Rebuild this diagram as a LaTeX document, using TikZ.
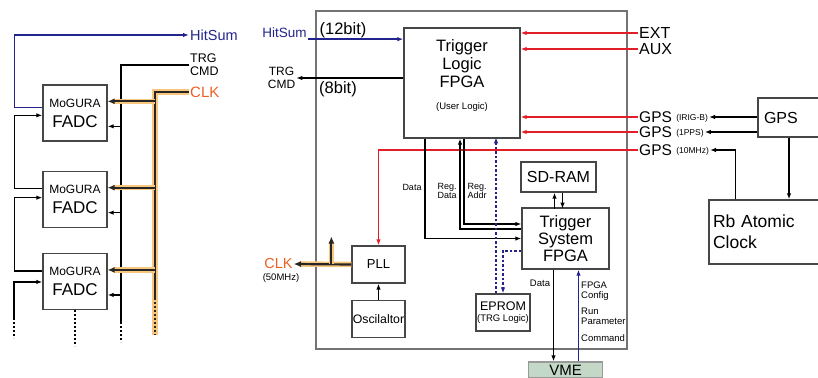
\documentclass[tikz,border=0pt]{standalone}
\usepackage{fontspec}
\setmainfont{Liberation Sans}
\usetikzlibrary{arrows.meta, positioning, calc}
\definecolor{navy}{RGB}{35,35,140}
\definecolor{sigred}{RGB}{228,30,40}
\definecolor{clkorange}{RGB}{236,95,35}
\definecolor{glow}{RGB}{248,198,125}
\definecolor{vmegreen}{RGB}{196,216,200}
\definecolor{boxedge}{RGB}{70,70,70}
\newcommand{\fsz}[2]{\fontsize{#1}{#2}\selectfont}
\newcommand{\mogura}{{\fsz{12}{20}MoGURA}\\FADC}
\newcommand{\gpsnote}[1]{\raisebox{2pt}{\fsz{8.5}{9}#1}}
\tikzset{
    box/.style={draw=boxedge, line width=1.3pt, fill=white, align=center, inner sep=0pt},
    fadc/.style={box, minimum width=64pt, minimum height=56pt, font=\fsz{17}{20}},
    lbl/.style={inner sep=1pt, align=center},
    arrow/.style={-{Latex[length=6pt,width=4.5pt]}, line width=1.35pt},
    larrow/.style={{Latex[length=6pt,width=4.5pt]}-, line width=1.35pt},
    redarrow/.style={arrow, sigred},
    navyarrow/.style={arrow, navy},
    navydash/.style={arrow, navy, dash pattern=on 2.5pt off 2pt},
    clkline/.style={line width=2.2pt, black!85, preaction={draw=glow, line width=5.5pt}},
    clkarrow/.style={clkline, -{Latex[length=7pt,width=6pt]}},
    clklarrow/.style={clkline, {Latex[length=7pt,width=6pt]}-},
    dotline/.style={line width=1.35pt, dash pattern=on 2pt off 2pt}
}

\begin{document}
\begin{tikzpicture}[x=1pt, y=-1pt]
    \useasboundingbox (0,0) rectangle (818,377);
    \clip (0,0) rectangle (818,377);

    % MoGURA FADC chain
    \node [fadc] (fadc1) at (75,113) {\mogura};
    \node [fadc, below=29pt of fadc1] (fadc2) {\mogura};
    \node [fadc, below=25pt of fadc2] (fadc3) {\mogura};
    \node [lbl, navy, anchor=west, font=\fsz{14.5}{16}] (hitsumL) at (189,35) {HitSum};
    \node [lbl, anchor=west, align=left, font=\fsz{12.5}{13}] (trgL) at (189,65) {TRG\\CMD};
    \node [lbl, clkorange, anchor=west, font=\fsz{15}{16}] (clkL) at (189,92) {CLK};
    \coordinate (trgbot) at (121,322);
    \coordinate (clkbot) at (155,298);
    \coordinate (chainend) at (14,318);

    \draw [navyarrow] ([yshift=-23pt]fadc1.north west) -- ++(-28,0) |- (hitsumL.west);
    \draw [arrow] ([yshift=-18pt]fadc2.north west) -- ++(-28,0) |- ([yshift=-31pt]fadc1.north west);
    \draw [arrow] ([yshift=-18pt]fadc3.north west) -- ++(-28,0) |- ([yshift=-27pt]fadc2.north west);
    \draw [arrow] (chainend) |- ([yshift=-29pt]fadc3.north west);
    \draw [dotline] (chainend) -- ++(0,20);
    \draw [dotline, line width=2.5pt] (fadc3.south) -- ++(0,36);
    \draw [line width=1.35pt] (trgL.west) -| (trgbot);
    \draw [dotline] (trgbot) -- ++(0,20);
    \draw [clkline] (clkL.west) -| (clkbot);
    \draw [clkline, dash pattern=on 2pt off 2pt] (clkbot) -- ++(0,37);
    \foreach \n in {1,2,3} {
        \draw [larrow] ([yshift=-42pt]fadc\n.north east) -- ++(14,0);
        \draw [clklarrow] ([yshift=-17pt]fadc\n.north east) -- ++(47,0);
    }

    % trigger board
    \node [draw=gray!90!black, line width=1.2pt, minimum width=311pt, minimum height=338pt, inner sep=0pt] (board) at (471.5,180) {};
    \node [box, minimum width=116pt, minimum height=110pt] (tl) at (462,83) {};
    \node [lbl, font=\fsz{16.5}{18}] (tltxt) at (462,64) {Trigger\\Logic\\FPGA};
    \node [lbl, font=\fsz{9.5}{11}] (ulogic) at (462,107) {(User Logic)};
    \node [box, minimum width=75pt, minimum height=30pt, font=\fsz{16}{18}] (sdram) at (558.5,177) {SD-RAM};
    \node [box, minimum width=87pt, minimum height=61pt, font=\fsz{16.5}{17}] (ts) at (565.5,238.5) {Trigger\\System\\FPGA};
    \node [box, minimum width=54pt, minimum height=37pt, font=\fsz{12.5}{11.5}] (eprom) at (503,312.5) {EPROM\\{\fsz{9.5}{11.5}(TRG Logic)}};
    \node [box, minimum width=53pt, minimum height=37pt, font=\fsz{13}{14}] (pll) at (378.5,264.5) {PLL};
    \node [box, minimum width=53pt, minimum height=37pt, font=\fsz{12.3}{14}, below=16pt of pll] (osc) {Oscilaltor};
    \node [box, fill=vmegreen, draw=gray!80, minimum width=74pt, minimum height=16pt, font=\fsz{15}{16}] (vme) at (565.5,370) {VME};

    \node [lbl, navy, font=\fsz{13.5}{15}] (hitsumR) at (284.5,33) {HitSum};
    \node [lbl, font=\fsz{16.5}{18}] (bit12) at (343,30) {(12bit)};
    \node [lbl, font=\fsz{12}{13}] (trgR) at (281.5,78) {TRG\\CMD};
    \node [lbl, font=\fsz{16.5}{18}] (bit8) at (338,89) {(8bit)};
    \node [lbl, clkorange, font=\fsz{14.5}{16}] (clkR) at (278.5,264) {CLK};
    \node [lbl, font=\fsz{9.5}{10}] (mhz) at (281,278) {(50MHz)};
    \node [lbl, font=\fsz{9}{10}] (datalbl) at (412,187) {Data};
    \node [lbl, align=left, font=\fsz{9}{9.5}] (regdata) at (447,191) {Reg.\\Data};
    \node [lbl, align=left, font=\fsz{9}{9.5}] (regaddr) at (477,191) {Reg.\\Addr};
    \node [lbl, font=\fsz{9.5}{10}] (datavme) at (540,283) {Data};
    \node [lbl, anchor=west, align=left, font=\fsz{9.5}{10}] (cfg) at (580,291) {FPGA\\Config};
    \node [lbl, anchor=west, align=left, font=\fsz{9.5}{10}] (runpar) at (580,316) {Run\\Parameter};
    \node [lbl, anchor=west, font=\fsz{9.5}{10}] (cmd) at (580,338) {Command};

    % external inputs
    \node [lbl, anchor=west, font=\fsz{16}{18}] (ext) at (638,33) {EXT};
    \node [lbl, anchor=west, font=\fsz{16}{18}] (aux) at (638,49) {AUX};
    \node [lbl, anchor=west, inner ysep=0pt, font=\fsz{15.5}{16}] (gpsirig) at (638,117) {GPS \gpsnote{(IRIG-B)}};
    \node [lbl, anchor=west, inner ysep=0pt, font=\fsz{15.5}{16}] (gpspps) at (638,132) {GPS \gpsnote{(1PPS)}};
    \node [lbl, anchor=west, inner ysep=0pt, font=\fsz{15.5}{16}] (gpsclk) at (638,150) {GPS \gpsnote{(10MHz)}};
    \node [box, text width=50pt, inner xsep=6pt, align=left, minimum height=39pt, font=\fsz{16}{18}] (gpsbox) at (789,117.5) {GPS};
    \node [box, text width=106pt, inner xsep=4pt, align=left, minimum height=64pt, font=\fsz{17.5}{21}] (rb) at (766,232) {Rb Atomic\\Clock};

    \draw [navyarrow] (hitsumR.south east) -- (hitsumR.south east -| tl.west);
    \draw [arrow] (trgR.east -| tl.west) -- (trgR.east);
    \foreach \s in {ext, aux, gpsirig, gpspps}
        \draw [redarrow] (\s.west) -- (\s.west -| tl.east);
    \draw [redarrow] (gpsclk.west) -| (pll.north);
    \draw [arrow] (gpsirig.east -| gpsbox.west) -- (gpsirig.east);
    \draw [arrow] (gpspps.east -| gpsbox.west) -- (gpspps.east);
    \draw [arrow] (gpsbox.south) -- (gpsbox.south |- rb.north);
    \draw [arrow] ([xshift=27pt]rb.north west) |- (gpsclk.east);

    \draw [arrow] ([xshift=-37pt]tl.south) |- (ts.west);
    \draw [arrow] ([xshift=2pt]tl.south) |- ([yshift=14.5pt]ts.west);
    \draw [larrow] ([xshift=-2pt]tl.south) |- ([yshift=9.5pt]ts.west);
    \draw [larrow] ([xshift=-4pt]sdram.south) -- ++(0,16);
    \draw [arrow] ([xshift=4pt]sdram.south) -- ++(0,16);
    \draw [navydash] ([xshift=-7pt]eprom.north) -- ++(0,-156);
    \draw [navydash] ([yshift=-12.5pt]ts.west) -| (eprom.north);
    \draw [arrow] ([xshift=-12pt]ts.south) -- ([xshift=-12pt]vme.north);
    \draw [navyarrow] ([xshift=13pt]vme.north) -- ([xshift=13pt]ts.south);

    \draw [arrow] (osc) -- (pll);
    \draw [clkarrow] (pll.west) -- (clkR.east);
    \draw [clkarrow] ([xshift=-20pt,yshift=1pt]pll.west) -- ++(0,-27);
\end{tikzpicture}
\end{document}
